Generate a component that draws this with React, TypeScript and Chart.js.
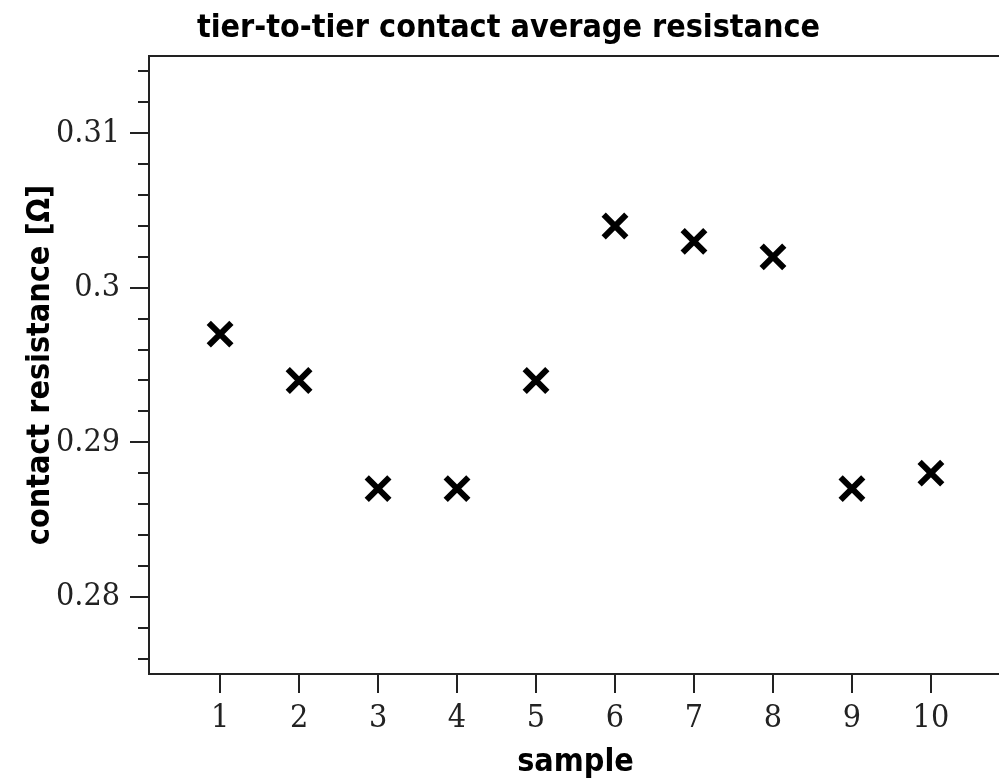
import React, { useEffect, useRef } from "react";
import { Chart, registerables } from "chart.js";

Chart.register(...registerables);

// Sample index and measured average contact resistance (ohm)
const samples = [1, 2, 3, 4, 5, 6, 7, 8, 9, 10];
const resistance = [0.297, 0.294, 0.287, 0.287, 0.294, 0.304, 0.303, 0.302, 0.287, 0.288];

// y-axis tick positions: labelled values and the short marks in between
const yMajorTicks = [0.28, 0.29, 0.3, 0.31];
const yMinorTicks = [
  0.276, 0.278, 0.282, 0.284, 0.286, 0.288, 0.292, 0.294, 0.296, 0.298,
  0.302, 0.304, 0.306, 0.308, 0.312, 0.314,
];
const yTickLabels = ["0.28", "0.29", "0.3", "0.31"];

const titleFont = '"DejaVu Sans Condensed", "DejaVu Sans", sans-serif';
const tickFont = '"DejaVu Serif Condensed", "Liberation Serif", serif';
const ink = "#222";

function majorIndex(v: number) {
  return yMajorTicks.findIndex((m) => Math.abs(m - v) < 1e-9);
}

// Tick marks on the y axis (long at labelled values, short in between)
// plus the frame line along the top of the plot.
const framePlugin = {
  id: "frameTicks",
  afterDraw(chart: any) {
    const { ctx, chartArea, scales } = chart;
    const y = scales.y;
    ctx.save();
    ctx.strokeStyle = ink;
    ctx.lineWidth = 2;
    ctx.beginPath();
    for (const t of y.ticks) {
      const py = Math.round(y.getPixelForValue(t.value));
      const len = majorIndex(t.value) >= 0 ? 19 : 11;
      ctx.moveTo(chartArea.left - len, py);
      ctx.lineTo(chartArea.left, py);
    }
    ctx.moveTo(chartArea.left - 1, chartArea.top);
    ctx.lineTo(chartArea.right, chartArea.top);
    ctx.stroke();
    ctx.restore();
  },
};

export default function App() {
  const canvasRef = useRef<HTMLCanvasElement | null>(null);

  useEffect(() => {
    if (!canvasRef.current) return;
    const chart = new Chart(canvasRef.current, {
      type: "scatter",
      data: {
        datasets: [
          {
            label: "contact resistance",
            data: samples.map((s, i) => ({ x: s, y: resistance[i] })),
            pointStyle: "crossRot",
            pointRadius: 16,
            pointHoverRadius: 16,
            pointBorderWidth: 6,
            borderColor: "#000",
            backgroundColor: "#000",
            showLine: false,
          },
        ],
      },
      options: {
        animation: false,
        responsive: false,
        devicePixelRatio: 1,
        layout: { padding: { left: 10, right: 17, top: 0, bottom: 0 } },
        plugins: {
          legend: { display: false },
          tooltip: { enabled: false },
          title: {
            display: true,
            text: "tier-to-tier contact average resistance",
            color: "#000",
            font: { family: titleFont, size: 32, weight: "bold", lineHeight: 1.2 },
            padding: { top: 9, bottom: 8.6 },
          },
        },
        scales: {
          x: {
            type: "linear",
            min: 0.1,
            max: 10.9,
            afterFit(scale: any) {
              scale.height = 105;
            },
            ticks: {
              stepSize: 1,
              includeBounds: false,
              color: ink,
              font: { family: tickFont, size: 32 },
              padding: 6,
              maxRotation: 0,
            },
            grid: {
              drawOnChartArea: false,
              tickLength: 19,
              color: ink,
              lineWidth: 2,
            },
            border: { display: true, color: ink, width: 2 },
            title: {
              display: true,
              text: "sample",
              color: "#000",
              font: { family: titleFont, size: 32, weight: "bold", lineHeight: 1.0 },
              padding: { top: 0, bottom: 0 },
            },
          },
          y: {
            type: "linear",
            min: 0.275,
            max: 0.315,
            afterFit(scale: any) {
              scale.width = 139;
            },
            afterBuildTicks(scale: any) {
              scale.ticks = [...yMajorTicks, ...yMinorTicks]
                .sort((a, b) => a - b)
                .map((v) => ({ value: v }));
            },
            ticks: {
              autoSkip: false,
              color: ink,
              font: { family: tickFont, size: 32 },
              padding: 29,
              callback: (v: any) => {
                const i = majorIndex(Number(v));
                return i >= 0 ? yTickLabels[i] : "";
              },
            },
            grid: { drawOnChartArea: false, drawTicks: false },
            border: { display: true, color: ink, width: 2 },
            title: {
              display: true,
              text: "contact resistance [Ω]",
              color: "#000",
              font: { family: titleFont, size: 32, weight: "bold", lineHeight: 1.2 },
              padding: { top: 11, bottom: 0 },
            },
          },
        },
      },
      plugins: [framePlugin],
    });
    return () => chart.destroy();
  }, []);

  return (
    <div
      style={{
        position: "absolute",
        left: 0,
        top: 0,
        width: 999,
        height: 779,
        overflow: "hidden",
        background: "#fff",
      }}
    >
      <canvas ref={canvasRef} width={1024} height={779} style={{ display: "block" }} />
    </div>
  );
}
